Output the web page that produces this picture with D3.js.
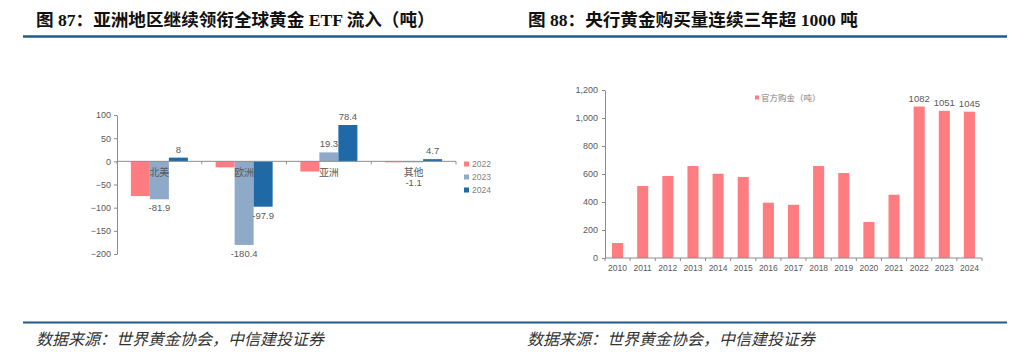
<!DOCTYPE html>
<html lang="zh">

<head>
    <meta charset="UTF-8">
    <title>黄金</title>
    <script src="https://d3js.org/d3.v7.min.js"></script>
    <style>
        body { margin: 0; background: #fff; }
        .titulo { font-family: "Liberation Serif", "Noto Sans CJK SC", serif; font-weight: bold; font-size: 17.6px; fill: #111; }
        .fuente { font-family: "Liberation Serif", "Noto Sans CJK SC", serif; font-style: italic; font-size: 16px; fill: #333; }
        .tick text, .num { font-family: "Liberation Sans", Arial, sans-serif; font-size: 9px; fill: #595959; }
        .cat { font-family: "Noto Sans CJK SC", sans-serif; font-size: 10px; fill: #595959; }
        .ley { font-family: "Liberation Sans", "Noto Sans CJK SC", sans-serif; font-size: 8.5px; fill: #7f7f7f; }
    </style>
</head>

<body>
    <svg width="1032" height="362" id="grafico"></svg>
    <script>

        // datos figura 87 (ETF por region, toneladas)
        var regiones = ["北美", "欧洲", "亚洲", "其他"];
        var anios = ["2022", "2023", "2024"];
        var flujo2022 = [-75, -13, -22, -1];
        var flujo2023 = [-81.9, -180.4, 19.3, -1.1];
        var flujo2024 = [8, -97.9, 78.4, 4.7];
        var etiquetas87 = [null, "-81.9", "8", null, "-180.4", "-97.9", null, "19.3", "78.4", null, "-1.1", "4.7"];
        var ticksY87 = [100, 50, 0, -50, -100, -150, -200];

        // datos figura 88 (compras bancos centrales)
        var years = ["2010", "2011", "2012", "2013", "2014", "2015", "2016", "2017", "2018", "2019", "2020", "2021", "2022", "2023", "2024"];
        var compras = [107, 514, 586, 657, 602, 579, 395, 380, 657, 607, 257, 452, 1082, 1051, 1045];
        var etiquetas88 = ["2022", "2023", "2024"];
        var ticksY88 = [0, 200, 400, 600, 800, 1000, 1200];

        var colores = { "2022": "#ff7c80", "2023": "#8eaac8", "2024": "#1f69a6" };
        var azul = "#1f5c8b";

        var svg = d3.select("svg");

        //Titulos y lineas
        svg.append("text").attr("class", "titulo").attr("x", 36).attr("y", 25.5)
            .text("图 87：亚洲地区继续领衔全球黄金 ETF 流入（吨）");
        svg.append("text").attr("class", "titulo").attr("x", 528).attr("y", 25.5)
            .text("图 88：央行黄金购买量连续三年超 1000 吨");
        svg.append("line").attr("x1", 23).attr("x2", 1007).attr("y1", 36.5).attr("y2", 36.5)
            .attr("stroke", azul).attr("stroke-width", 2.5);
        svg.append("line").attr("x1", 23).attr("x2", 1007).attr("y1", 322.5).attr("y2", 322.5)
            .attr("stroke", azul).attr("stroke-width", 2);
        svg.append("text").attr("class", "fuente").attr("x", 36).attr("y", 345)
            .text("数据来源：世界黄金协会，中信建投证券");
        svg.append("text").attr("class", "fuente").attr("x", 527).attr("y", 345)
            .text("数据来源：世界黄金协会，中信建投证券");

        // ---------- grafico izquierdo ----------
        var series = [flujo2022, flujo2023, flujo2024];
        var x0 = d3.scaleBand().domain(regiones).range([117, 456]);
        var x1 = d3.scaleBand().domain(anios).range([0, x0.bandwidth()]).paddingOuter(0.73);
        var y = d3.scaleLinear().domain([-200, 100]).range([254, 115]);

        var izq = svg.append("g");

        izq.append("g")
            .attr("transform", "translate(117,0)")
            .call(d3.axisLeft(y).tickValues(ticksY87).tickSize(3).tickSizeOuter(0))
            .call(function (g) {
                g.select(".domain").attr("stroke", "#8c8c8c");
                g.selectAll(".tick line").attr("stroke", "#8c8c8c");
                g.selectAll(".tick text").attr("x", -6);
            });

        regiones.forEach(function (r, i) {
            anios.forEach(function (a, j) {
                var v = series[j][i];
                izq.append("rect")
                    .attr("x", x0(r) + x1(a))
                    .attr("width", x1.bandwidth())
                    .attr("y", y(Math.max(0, v)))
                    .attr("height", Math.max(Math.abs(y(v) - y(0)), 1))
                    .attr("fill", colores[a]);
                var lab = etiquetas87[i * 3 + j];
                if (lab) {
                    var ly = v >= 0 ? y(v) - 5 : Math.max(y(v) + 12, y(0) + 25);
                    izq.append("text").attr("class", "num")
                        .attr("x", x0(r) + x1(a) + x1.bandwidth() / 2)
                        .attr("y", ly)
                        .attr("text-anchor", "middle")
                        .style("font-size", "9.5px")
                        .text(lab);
                }
            });
        });

        // eje x en cero
        izq.append("line").attr("x1", 117).attr("x2", 456).attr("y1", y(0)).attr("y2", y(0))
            .attr("stroke", "#8c8c8c");
        regiones.concat(["fin"]).forEach(function (r, i) {
            var xx = 117 + i * x0.step();
            izq.append("line").attr("x1", xx).attr("x2", xx).attr("y1", y(0)).attr("y2", y(0) + 3)
                .attr("stroke", "#8c8c8c");
        });
        regiones.forEach(function (r) {
            izq.append("text").attr("class", "cat")
                .attr("x", x0(r) + x0.bandwidth() / 2)
                .attr("y", y(0) + 15)
                .attr("text-anchor", "middle")
                .text(r);
        });

        // leyenda
        anios.forEach(function (a, j) {
            izq.append("rect").attr("x", 464).attr("y", 161.5 + j * 13).attr("width", 5).attr("height", 5)
                .attr("fill", colores[a]);
            izq.append("text").attr("class", "ley").attr("x", 472).attr("y", 167 + j * 13).text(a);
        });

        // ---------- grafico derecho ----------
        var xb = d3.scaleBand().domain(years).range([605, 982]).paddingInner(0.56).paddingOuter(0.28);
        var yb = d3.scaleLinear().domain([0, 1200]).range([258, 90]);

        var der = svg.append("g");

        der.append("g")
            .attr("transform", "translate(605,0)")
            .call(d3.axisLeft(yb).tickValues(ticksY88).tickFormat(d3.format(",")).tickSize(3).tickSizeOuter(0))
            .call(function (g) {
                g.select(".domain").attr("stroke", "#8c8c8c");
                g.selectAll(".tick line").attr("stroke", "#8c8c8c");
                g.selectAll(".tick text").attr("x", -7);
            });

        der.selectAll(".barra")
            .data(compras)
            .enter().append("rect")
            .attr("class", "barra")
            .attr("x", function (d, i) { return xb(years[i]); })
            .attr("width", xb.bandwidth())
            .attr("y", function (d) { return yb(d); })
            .attr("height", function (d) { return yb(0) - yb(d); })
            .attr("fill", colores["2022"]);

        // eje x
        der.append("line").attr("x1", 605).attr("x2", 982).attr("y1", yb(0)).attr("y2", yb(0))
            .attr("stroke", "#8c8c8c");
        years.concat(["fin"]).forEach(function (a, i) {
            var xx = 605 + i * xb.step();
            der.append("line").attr("x1", xx).attr("x2", xx).attr("y1", yb(0)).attr("y2", yb(0) + 3)
                .attr("stroke", "#8c8c8c");
        });
        years.forEach(function (a) {
            der.append("text").attr("class", "num")
                .attr("x", xb(a) + xb.bandwidth() / 2)
                .attr("y", 271)
                .attr("text-anchor", "middle")
                .style("font-size", "8.5px")
                .text(a);
        });

        etiquetas88.forEach(function (a) {
            var i = years.indexOf(a);
            der.append("text").attr("class", "num")
                .attr("x", xb(a) + xb.bandwidth() / 2)
                .attr("y", yb(compras[i]) - 5)
                .attr("text-anchor", "middle")
                .style("font-size", "9.5px")
                .text(compras[i]);
        });

        // leyenda
        der.append("rect").attr("x", 755).attr("y", 95.5).attr("width", 4).attr("height", 4).attr("fill", colores["2022"]);
        der.append("text").attr("class", "ley").attr("x", 761).attr("y", 100.5).text("官方购金（吨）");

    </script>
</body>

</html>
